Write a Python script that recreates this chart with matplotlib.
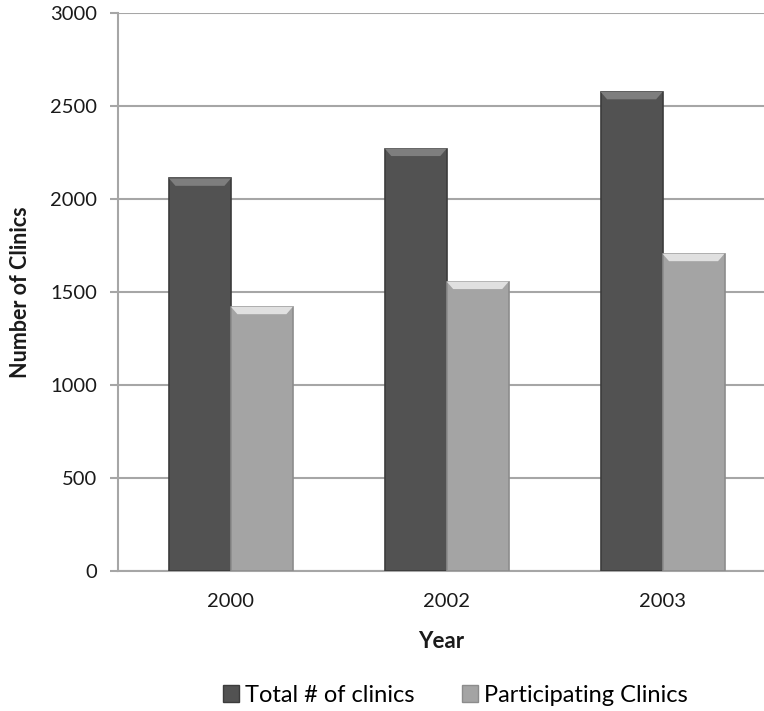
import numpy as np
import matplotlib.pyplot as plt
from matplotlib.patches import Polygon, Patch

plt.rcParams['font.family'] = ['Lato', 'DejaVu Sans']

years = ['2000', '2002', '2003']
total_clinics = [2110, 2270, 2575]
participating = [1420, 1555, 1705]
series_names = ['Total # of clinics', 'Participating Clinics']

dark = '#525252'
light = '#a4a4a4'
grid_col = '#a6a6a6'
text_col = '#1a1a1a'

fig = plt.figure(figsize=(7.64, 7.11), dpi=100)
ax = fig.add_axes([0.1545, 0.197, 0.8455, 0.785])

x = np.arange(len(years))
w = 0.287


def bevel_bars(xs, vals, color, edge, hi):
    bars = ax.bar(xs, vals, width=w, color=color, edgecolor=edge,
                  linewidth=1.2, zorder=3)
    # light sloped strip along the top of each bar
    dy = 40
    dx = 0.03
    for b in bars:
        x0 = b.get_x()
        x1 = x0 + b.get_width()
        top = b.get_height()
        poly = Polygon([(x0, top), (x1, top), (x1 - dx, top - dy),
                        (x0 + dx, top - dy)], closed=True,
                       facecolor=hi, edgecolor='none', zorder=4)
        ax.add_patch(poly)
    return bars


bevel_bars(x - w / 2, total_clinics, dark, '#3c3c3c', '#7e7e7e')
bevel_bars(x + w / 2, participating, light, '#8c8c8c', '#e0e0e0')

ax.set_xlim(-0.523, 2.47)
ax.set_ylim(0, 3000)
ax.set_yticks(np.arange(0, 3001, 500))
ax.set_xticks(x)
ax.set_xticklabels(years)
ax.yaxis.grid(True, color=grid_col, linewidth=1.5, zorder=0)
ax.set_axisbelow(True)

for s in ['top', 'right']:
    ax.spines[s].set_visible(False)
for s in ['left', 'bottom']:
    ax.spines[s].set_color(grid_col)
    ax.spines[s].set_linewidth(1.5)

ax.tick_params(axis='y', length=6, width=1.5, color=grid_col,
               labelsize=14.5, labelcolor=text_col, pad=9)
ax.tick_params(axis='x', length=0, labelsize=14.5, labelcolor=text_col,
               pad=16)

ax.set_ylabel('Number of Clinics', fontsize=15.5, fontweight='bold',
              color=text_col, labelpad=14)
ax.set_xlabel('Year', fontsize=16, fontweight='bold', color=text_col,
              labelpad=15)

handles = [Patch(facecolor=dark, edgecolor='#3c3c3c'),
           Patch(facecolor=light, edgecolor='#8c8c8c')]
fig.legend(handles, series_names, loc='center', bbox_to_anchor=(0.596, 0.022),
           ncol=2, frameon=False, fontsize=17, handlelength=0.7,
           handleheight=0.7, handletextpad=0.25, columnspacing=2.0)

fig.savefig('out.png', dpi=100)
